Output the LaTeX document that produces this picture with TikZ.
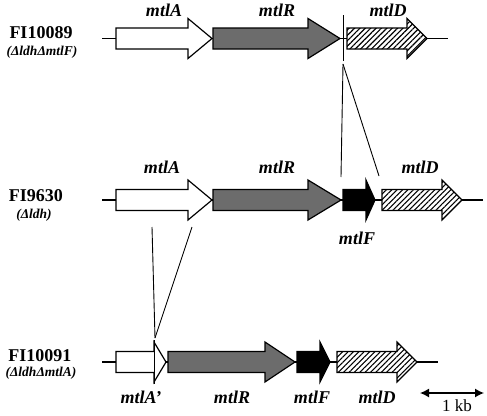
\documentclass[tikz,border=0pt]{standalone}
\usepackage{fontspec}
\setmainfont{Liberation Serif}
\usetikzlibrary{patterns.meta,arrows.meta}
\definecolor{regray}{RGB}{108,108,108}
\tikzset{
  backbone/.style={line width=1.3pt},
  genebox/.style={draw=black,line width=1.2pt,line join=miter},
  whitegene/.style={genebox,fill=white},
  graygene/.style={genebox,fill=regray},
  blackgene/.style={genebox,fill=black},
  hatchgene/.style={genebox,preaction={fill=white},pattern={Lines[angle=45,distance=3.8pt,line width=1.1pt]}},
  strain/.style={font=\fontsize{18}{20}\selectfont\bfseries,inner sep=0pt},
  geno/.style={font=\fontsize{13.5}{15}\selectfont\bfseries\itshape,inner sep=0pt},
  genelabel/.style={font=\fontsize{18}{20}\selectfont\bfseries\itshape,inner sep=0pt},
  thinline/.style={line width=0.9pt},
}
\newcommand\genearrow[6]{%
  \draw[#1] (#3,#6-10.5) -- (#4,#6-10.5) -- (#4,#6-20) -- (#5,#6) -- (#4,#6+20) -- (#4,#6+10.5) -- (#3,#6+10.5) -- cycle;
  \coordinate (#2) at (#5,#6);}
\begin{document}
\begin{tikzpicture}[x=1pt,y=-1pt]
\useasboundingbox (0,0) rectangle (487,415);
% ---------- Row 1: FI10089
\coordinate (b1s) at (102,38.5);
\coordinate (b1e) at (448,38.5);
\draw[backbone] (b1s) -- (b1e);
\genearrow{whitegene}{r1A}{116}{188}{212}{38.5}
\genearrow{graygene}{r1R}{213}{308}{340}{38.5}
\genearrow{hatchgene}{r1D}{347}{407}{427}{38.5}
\coordinate (v1t) at (343,15);
\coordinate (v1b) at (343,61);
\draw[thinline] (v1t) -- (v1b);
\node[strain] (s1) at (41,33) {FI10089};
\node[geno] (g1) at (42,52) {(ΔldhΔmtlF)};
\node[genelabel] (l1A) at (164,10) {mtlA};
\node[genelabel] (l1R) at (277,10) {mtlR};
\node[genelabel] (l1D) at (388,10) {mtlD};
% ---------- Row 2: FI9630
\coordinate (b2s) at (102,200);
\coordinate (b2e) at (483,200);
\draw[backbone] (b2s) -- (b2e);
\genearrow{whitegene}{r2A}{116}{188}{212}{200}
\genearrow{graygene}{r2R}{213}{308}{341}{200}
\genearrow{blackgene}{r2F}{343}{366}{375}{200}
\genearrow{hatchgene}{r2D}{382}{442}{462}{200}
\node[strain] (s2) at (36,196) {FI9630};
\node[geno] (g2) at (34,215) {(Δldh)};
\node[genelabel] (l2A) at (162,167) {mtlA};
\node[genelabel] (l2R) at (277,167) {mtlR};
\node[genelabel] (l2D) at (420,167) {mtlD};
\node[genelabel] (l2F) at (357,238) {mtlF};
% connectors row1 -> row2
\coordinate (c1) at (343,64);
\coordinate (c1l) at (341,177);
\coordinate (c1r) at (379,176);
\draw[thinline] (c1) -- (c1l);
\draw[thinline] (c1) -- (c1r);
% ---------- Row 3: FI10091
\coordinate (b3s) at (102,362);
\coordinate (b3e) at (438,362);
\draw[backbone] (b3s) -- (b3e);
\genearrow{whitegene}{r3A}{116}{154}{166}{362}
\genearrow{graygene}{r3R}{168}{265}{295}{362}
\genearrow{blackgene}{r3F}{297}{320}{330}{362}
\genearrow{hatchgene}{r3D}{337}{397}{417}{362}
\node[strain] (s3) at (40,356) {FI10091};
\node[geno] (g3) at (41,373) {(ΔldhΔmtlA)};
\node[genelabel] (l3A) at (141,397) {mtlA’};
\node[genelabel] (l3R) at (232,397) {mtlR};
\node[genelabel] (l3F) at (312,397) {mtlF};
\node[genelabel] (l3D) at (377,397) {mtlD};
% connectors row2 -> row3
\coordinate (c2l) at (152,227);
\coordinate (c2r) at (192,227);
\coordinate (c2) at (155,338);
\draw[thinline] (c2l) -- (c2);
\draw[thinline] (c2r) -- (c2);
\coordinate (v3t) at (154,340);
\coordinate (v3b) at (154,384);
\draw[thinline] (v3t) -- (v3b);
% ---------- scale bar
\coordinate (sbl) at (420,393);
\coordinate (sbr) at (484,393);
\draw[line width=1.3pt,{Latex[length=9pt,width=9pt]}-{Latex[length=9pt,width=9pt]}] (sbl) -- (sbr);
\node[font=\fontsize{17}{19}\selectfont,inner sep=0pt] (kb) at (457,406) {1 kb};
\end{tikzpicture}
\end{document}
